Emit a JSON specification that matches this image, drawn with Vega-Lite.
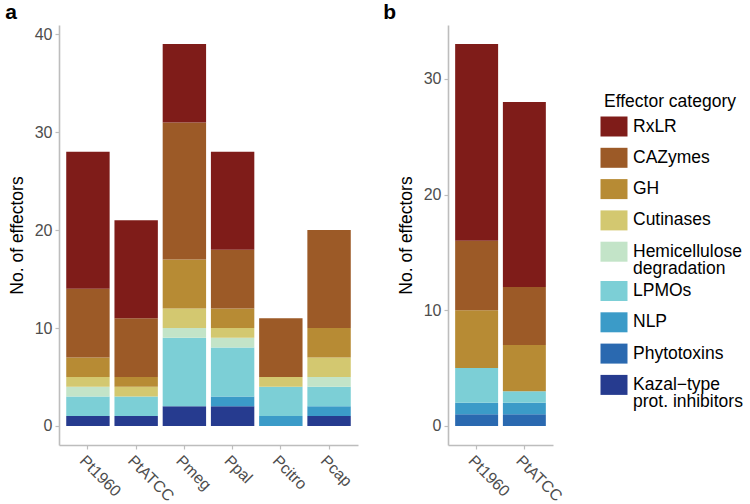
{
  "$schema": "https://vega.github.io/schema/vega-lite/v6.json",
  "background": "white",
  "padding": {"left": 5, "top": 2, "right": 5, "bottom": 5},
  "datasets": {
    "categories": [
      {"category": "Kazal−type prot. inhibitors", "stackRank": 1},
      {"category": "Phytotoxins", "stackRank": 2},
      {"category": "NLP", "stackRank": 3},
      {"category": "LPMOs", "stackRank": 4},
      {"category": "Hemicellulose degradation", "stackRank": 5},
      {"category": "Cutinases", "stackRank": 6},
      {"category": "GH", "stackRank": 7},
      {"category": "CAZymes", "stackRank": 8},
      {"category": "RxLR", "stackRank": 9}
    ],
    "panelA": [
      {"strain": "Pt1960", "category": "Kazal−type prot. inhibitors", "count": 1},
      {"strain": "Pt1960", "category": "LPMOs", "count": 2},
      {"strain": "Pt1960", "category": "Hemicellulose degradation", "count": 1},
      {"strain": "Pt1960", "category": "Cutinases", "count": 1},
      {"strain": "Pt1960", "category": "GH", "count": 2},
      {"strain": "Pt1960", "category": "CAZymes", "count": 7},
      {"strain": "Pt1960", "category": "RxLR", "count": 14},
      {"strain": "PtATCC", "category": "Kazal−type prot. inhibitors", "count": 1},
      {"strain": "PtATCC", "category": "LPMOs", "count": 2},
      {"strain": "PtATCC", "category": "Cutinases", "count": 1},
      {"strain": "PtATCC", "category": "GH", "count": 1},
      {"strain": "PtATCC", "category": "CAZymes", "count": 6},
      {"strain": "PtATCC", "category": "RxLR", "count": 10},
      {"strain": "Pmeg", "category": "Kazal−type prot. inhibitors", "count": 2},
      {"strain": "Pmeg", "category": "LPMOs", "count": 7},
      {"strain": "Pmeg", "category": "Hemicellulose degradation", "count": 1},
      {"strain": "Pmeg", "category": "Cutinases", "count": 2},
      {"strain": "Pmeg", "category": "GH", "count": 5},
      {"strain": "Pmeg", "category": "CAZymes", "count": 14},
      {"strain": "Pmeg", "category": "RxLR", "count": 8},
      {"strain": "Ppal", "category": "Kazal−type prot. inhibitors", "count": 2},
      {"strain": "Ppal", "category": "NLP", "count": 1},
      {"strain": "Ppal", "category": "LPMOs", "count": 5},
      {"strain": "Ppal", "category": "Hemicellulose degradation", "count": 1},
      {"strain": "Ppal", "category": "Cutinases", "count": 1},
      {"strain": "Ppal", "category": "GH", "count": 2},
      {"strain": "Ppal", "category": "CAZymes", "count": 6},
      {"strain": "Ppal", "category": "RxLR", "count": 10},
      {"strain": "Pcitro", "category": "NLP", "count": 1},
      {"strain": "Pcitro", "category": "LPMOs", "count": 3},
      {"strain": "Pcitro", "category": "Cutinases", "count": 1},
      {"strain": "Pcitro", "category": "CAZymes", "count": 6},
      {"strain": "Pcap", "category": "Kazal−type prot. inhibitors", "count": 1},
      {"strain": "Pcap", "category": "NLP", "count": 1},
      {"strain": "Pcap", "category": "LPMOs", "count": 2},
      {"strain": "Pcap", "category": "Hemicellulose degradation", "count": 1},
      {"strain": "Pcap", "category": "Cutinases", "count": 2},
      {"strain": "Pcap", "category": "GH", "count": 3},
      {"strain": "Pcap", "category": "CAZymes", "count": 10}
    ],
    "panelB": [
      {"strain": "Pt1960", "category": "Phytotoxins", "count": 1},
      {"strain": "Pt1960", "category": "NLP", "count": 1},
      {"strain": "Pt1960", "category": "LPMOs", "count": 3},
      {"strain": "Pt1960", "category": "GH", "count": 5},
      {"strain": "Pt1960", "category": "CAZymes", "count": 6},
      {"strain": "Pt1960", "category": "RxLR", "count": 17},
      {"strain": "PtATCC", "category": "Phytotoxins", "count": 1},
      {"strain": "PtATCC", "category": "NLP", "count": 1},
      {"strain": "PtATCC", "category": "LPMOs", "count": 1},
      {"strain": "PtATCC", "category": "GH", "count": 4},
      {"strain": "PtATCC", "category": "CAZymes", "count": 5},
      {"strain": "PtATCC", "category": "RxLR", "count": 16}
    ]
  },
  "spacing": 25,
  "hconcat": [
    {
      "title": {"text": "a", "dx": -3},
      "data": {"name": "panelA"},
      "transform": [
        {"lookup": "category", "from": {"data": {"name": "categories"}, "key": "category", "fields": ["stackRank"]}}
      ],
      "width": 299,
      "height": 420,
      "mark": {"type": "bar"},
      "encoding": {
        "x": {
          "field": "strain", "type": "nominal",
          "sort": ["Pt1960", "PtATCC", "Pmeg", "Ppal", "Pcitro", "Pcap"],
          "scale": {"paddingInner": 0.1, "paddingOuter": 0.15},
          "axis": {"title": null}
        },
        "y": {
          "field": "count", "type": "quantitative", "stack": "zero",
          "scale": {"domain": [-1.95, 40.95], "nice": false, "zero": false},
          "axis": {"values": [0, 10, 20, 30, 40], "title": "No. of effectors"}
        },
        "order": {"field": "stackRank", "type": "quantitative", "sort": "ascending"},
        "color": {
          "field": "category", "type": "nominal",
          "scale": {
            "domain": ["RxLR", "CAZymes", "GH", "Cutinases", "Hemicellulose degradation", "LPMOs", "NLP", "Phytotoxins", "Kazal−type prot. inhibitors"],
            "range": ["#7f1c19", "#9c5a27", "#b78b34", "#d3c870", "#c3e4c8", "#7ccfd6", "#3b9bc8", "#2a69b0", "#263b8f"]
          },
          "legend": {
            "title": "Effector category",
            "labelExpr": "datum.label == 'Hemicellulose degradation' ? ['Hemicellulose', 'degradation'] : datum.label == 'Kazal−type prot. inhibitors' ? ['Kazal−type', 'prot. inhibitors'] : datum.label"
          }
        }
      }
    },
    {
      "title": {"text": "b", "dx": -14},
      "data": {"name": "panelB"},
      "transform": [
        {"lookup": "category", "from": {"data": {"name": "categories"}, "key": "category", "fields": ["stackRank"]}}
      ],
      "width": 105,
      "height": 420,
      "mark": {"type": "bar"},
      "encoding": {
        "x": {
          "field": "strain", "type": "nominal",
          "sort": ["Pt1960", "PtATCC"],
          "scale": {"paddingInner": 0.1, "paddingOuter": 0.15},
          "axis": {"title": null}
        },
        "y": {
          "field": "count", "type": "quantitative", "stack": "zero",
          "scale": {"domain": [-1.65, 34.65], "nice": false, "zero": false},
          "axis": {"values": [0, 10, 20, 30], "title": "No. of effectors"}
        },
        "order": {"field": "stackRank", "type": "quantitative", "sort": "ascending"},
        "color": {
          "field": "category", "type": "nominal",
          "scale": {
            "domain": ["RxLR", "CAZymes", "GH", "Cutinases", "Hemicellulose degradation", "LPMOs", "NLP", "Phytotoxins", "Kazal−type prot. inhibitors"],
            "range": ["#7f1c19", "#9c5a27", "#b78b34", "#d3c870", "#c3e4c8", "#7ccfd6", "#3b9bc8", "#2a69b0", "#263b8f"]
          },
          "legend": {
            "title": "Effector category",
            "labelExpr": "datum.label == 'Hemicellulose degradation' ? ['Hemicellulose', 'degradation'] : datum.label == 'Kazal−type prot. inhibitors' ? ['Kazal−type', 'prot. inhibitors'] : datum.label"
          }
        }
      }
    }
  ],
  "resolve": {"scale": {"color": "shared"}},
  "config": {
    "view": {"stroke": null},
    "font": "Liberation Sans",
    "style": {"guide-label": {"lineHeight": 17.5}},
    "title": {"fontSize": 21, "fontWeight": "bold", "anchor": "start", "frame": "bounds", "offset": 2, "color": "black", "font": "Liberation Sans"},
    "axis": {
      "grid": false,
      "domainColor": "#bdbdbd", "domainWidth": 1.6,
      "tickColor": "#bdbdbd", "tickWidth": 1.2, "tickSize": 4,
      "labelColor": "#4d4d4d", "labelFontSize": 16, "labelFont": "Liberation Sans",
      "titleFont": "Liberation Sans", "titleFontSize": 17.5, "titleFontWeight": "normal", "titleColor": "black"
    },
    "axisX": {"labelAngle": 45, "labelAlign": "left", "labelBaseline": "top", "labelPadding": 3},
    "axisY": {"labelPadding": 3, "titlePadding": 8},
    "legend": {
      "orient": "none", "legendX": 545, "legendY": 68,
      "titleFont": "Liberation Sans", "titleFontSize": 17.5, "titleFontWeight": "normal", "titleColor": "black", "titlePadding": 6,
      "labelFont": "Liberation Sans", "labelFontSize": 17.5, "labelColor": "black", "labelOffset": 9,
      "labelLimit": 200,
      "symbolType": "M-1.35,-1L1.35,-1L1.35,1L-1.35,1ZM0,-1.75M0,1.75", "symbolSize": 400,
      "symbolStrokeWidth": 0, "symbolOpacity": 1,
      "rowPadding": -4.7
    }
  }
}
